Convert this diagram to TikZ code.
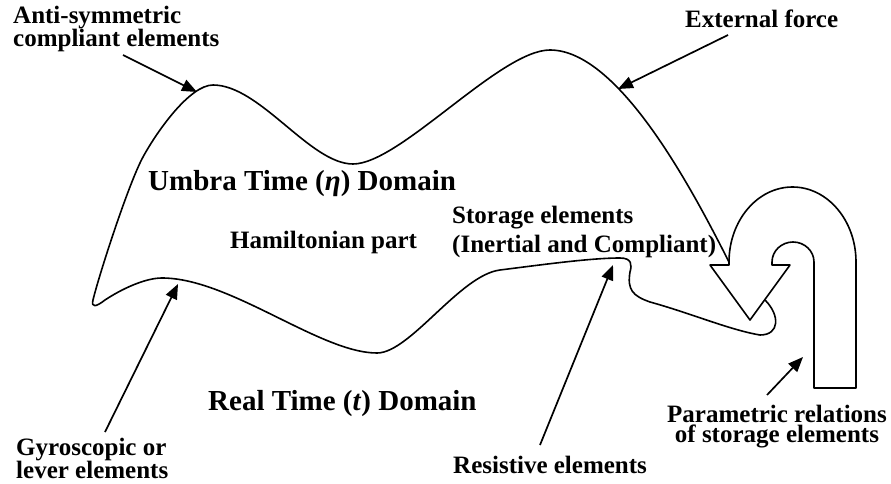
\documentclass[tikz,border=0pt]{standalone}
\usepackage{fontspec}
\setmainfont{Liberation Serif}
\usetikzlibrary{arrows.meta}
\begin{document}
\begin{tikzpicture}[x=1pt, y=-1pt, line join=round]
        \tikzset{lbl/.style={font=\fontsize{25}{21}\selectfont\bfseries, inner sep=0pt, align=left, anchor=base west},
                 big/.style={font=\fontsize{29}{34}\selectfont\bfseries, inner sep=0pt, anchor=base west},
                 pointer/.style={-{Triangle[length=15pt,width=12pt]}, line width=1.7pt},
                 outline/.style={line width=1.6pt}}
        \useasboundingbox (0,0) rectangle (891,484);
        % closed domain boundary
        \draw[outline] (729,262) .. controls (695,195) and (620,50) .. (550,50)
            .. controls (500,50) and (400,164) .. (353,164)
            .. controls (310,164) and (260,85) .. (213,85)
            .. controls (190,85) and (157.4,130.6) .. (143,157)
            .. controls (128.6,183.4) and (99,275) .. (93,300)
            .. controls (91,308) and (96,307) .. (105,300)
            .. controls (121.6,289) and (145,278) .. (162,278)
            .. controls (230,278) and (320,353) .. (377,353)
            .. controls (410,353) and (460,275) .. (500,270)
            .. controls (540,265) and (590,258) .. (620,258)
            .. controls (632,258) and (632,265) .. (630,272)
            .. controls (627,290) and (633,296) .. (650,302)
            .. controls (690,313) and (730,330) .. (760,335)
            .. controls (780,335) and (780,315) .. (765,300);
        % hook arrow
        \draw[outline] (856,262) -- (856,388) -- (814,388) -- (814,262)
            .. controls (814,251) and (804.6,242) .. (793,242)
            .. controls (781.4,242) and (772,251) .. (772,262)
            -- (772,265) -- (790,265) -- (750,320) -- (710,265) -- (729,265) -- (729,262)
            .. controls (729,220.6) and (757.4,187) .. (792.5,187)
            .. controls (827.6,187) and (856,220.6) .. (856,262) -- cycle;
        \node[lbl] (anti) at (13,47) {Anti-symmetric\\compliant elements};
        \node[lbl] (force) at (685,28) {External force};
        \node[big] (umbra) at (148,190) {Umbra Time (\textit{η}) Domain};
        \node[lbl] (hamilton) at (230,248) {Hamiltonian part};
        \node[lbl, font=\fontsize{25}{29}\selectfont\bfseries] (storage) at (452,252) {Storage elements\\(Inertial and Compliant)};
        \node[big] (real) at (208,410) {Real Time (\textit{t}) Domain};
        \node[lbl] (resist) at (453,473) {Resistive elements};
        \node[lbl, font=\fontsize{25}{23}\selectfont\bfseries] (gyro) at (16,478) {Gyroscopic or\\lever elements};
        \node[lbl, align=center, anchor=base, font=\fontsize{25}{20}\selectfont\bfseries] (param) at (777,442) {Parametric relations\\of storage elements};
        \coordinate (antiS) at (123,55);   \coordinate (antiT) at (197,92);
        \coordinate (forceS) at (728,35);  \coordinate (forceT) at (618,89);
        \coordinate (gyroS) at (105,432);  \coordinate (gyroT) at (178,284);
        \coordinate (resistS) at (540,445); \coordinate (resistT) at (613,265);
        \coordinate (paramS) at (767,395); \coordinate (paramT) at (803,357);
        \draw[pointer] (antiS) -- (antiT);
        \draw[pointer] (forceS) -- (forceT);
        \draw[pointer] (gyroS) -- (gyroT);
        \draw[pointer] (resistS) -- (resistT);
        \draw[pointer] (paramS) -- (paramT);
    \end{tikzpicture}
\end{document}
